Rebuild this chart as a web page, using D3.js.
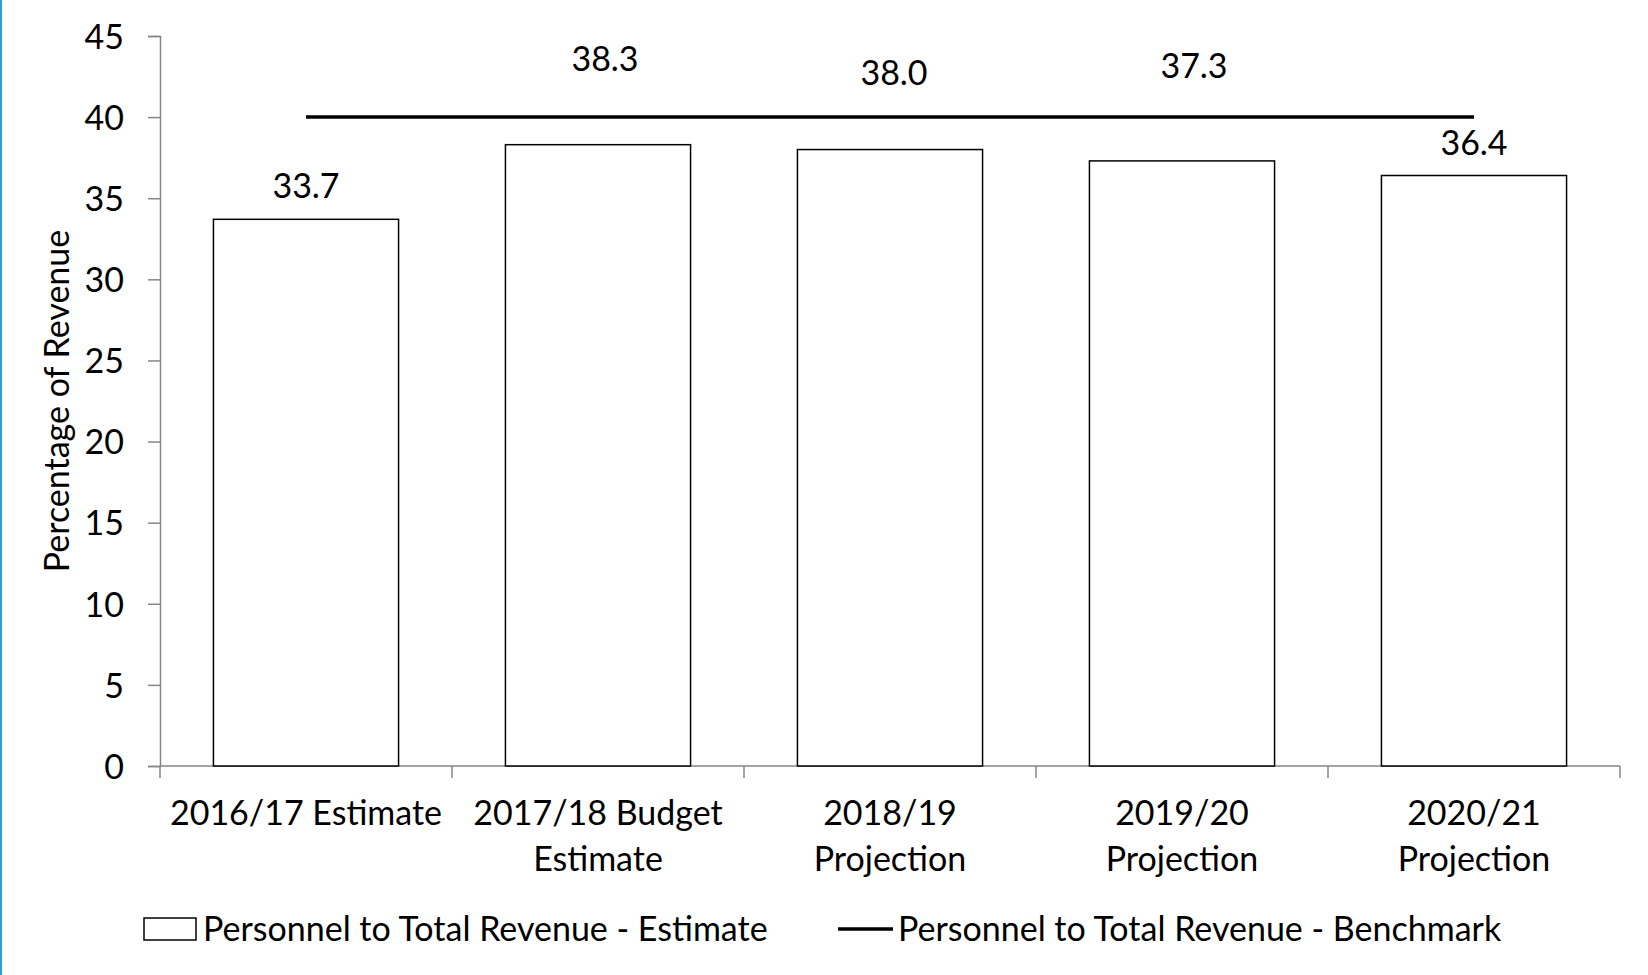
<!DOCTYPE html>
<html>
<head>
<meta charset="utf-8">
<script src="https://cdn.jsdelivr.net/npm/d3@7"></script>
<style>
  html, body { margin: 0; padding: 0; background: #fff; }
  svg text { font-family: "Lato", "Open Sans", sans-serif; fill: #000; }
</style>
</head>
<body>
<div id="chart"></div>
<script>
'use strict';

// Chart data
const categories = [
    ['2016/17 Estimate'],
    ['2017/18 Budget', 'Estimate'],
    ['2018/19', 'Projection'],
    ['2019/20', 'Projection'],
    ['2020/21', 'Projection']
];
const estimateValues = [33.7, 38.3, 38.0, 37.3, 36.4];
const benchmarkValues = [40, 40, 40, 40, 40];
const yTicks = [0, 5, 10, 15, 20, 25, 30, 35, 40, 45];
const seriesNames = ['Personnel to Total Revenue - Estimate', 'Personnel to Total Revenue - Benchmark'];
const yTitle = 'Percentage of Revenue';

const width = 1648, height = 975;
const margin = { top: 36, right: 28, bottom: 209, left: 160 };
const fontSize = 34;

const svg = d3.select('#chart').append('svg')
    .attr('width', width)
    .attr('height', height);

// thin blue frame edge on the left
svg.append('rect')
    .attr('x', 0).attr('y', 0)
    .attr('width', 2).attr('height', height)
    .attr('fill', '#2a9fd6');

const keys = categories.map(c => c.join(' '));

const x = d3.scaleBand()
    .domain(keys)
    .range([margin.left, width - margin.right])
    .paddingInner(0.366)
    .paddingOuter(0.183);

const y = d3.scaleLinear()
    .domain([0, 45])
    .range([height - margin.bottom, margin.top]);

// Y axis
const yAxis = svg.append('g')
    .attr('transform', `translate(${margin.left},0)`)
    .call(d3.axisLeft(y).tickValues(yTicks).tickSize(12).tickPadding(24));
yAxis.selectAll('path, line').attr('stroke', '#868686').attr('stroke-width', 1.5);
yAxis.selectAll('text')
    .style('font-size', fontSize + 'px')
    .attr('dy', '0.36em');

// X axis line + boundary ticks
const x0 = margin.left, y0 = y(0);
const xAxis = svg.append('g');
xAxis.append('line')
    .attr('x1', x0).attr('x2', width - margin.right)
    .attr('y1', y0).attr('y2', y0)
    .attr('stroke', '#868686').attr('stroke-width', 1.5);
xAxis.selectAll('line.tick')
    .data(d3.range(keys.length + 1))
    .join('line')
    .classed('tick', true)
    .attr('x1', i => x0 + i * x.step())
    .attr('x2', i => x0 + i * x.step())
    .attr('y1', y0).attr('y2', y0 + 12)
    .attr('stroke', '#868686').attr('stroke-width', 1.5);

// Category labels
xAxis.selectAll('text.cat')
    .data(categories)
    .join('text')
    .classed('cat', true)
    .attr('text-anchor', 'middle')
    .style('font-size', fontSize + 'px')
    .each(function (lines, i) {
        const t = d3.select(this);
        const cx = x(keys[i]) + x.bandwidth() / 2;
        lines.forEach((ln, j) => {
            t.append('tspan')
                .attr('x', cx)
                .attr('y', y0 + 59 + j * 46)
                .text(ln);
        });
    });

// Bars
svg.append('g').selectAll('rect')
    .data(estimateValues)
    .join('rect')
    .attr('x', (d, i) => x(keys[i]))
    .attr('y', d => y(d))
    .attr('width', x.bandwidth())
    .attr('height', d => y(0) - y(d))
    .attr('fill', '#fff')
    .attr('stroke', '#000')
    .attr('stroke-width', 1.5);

// Benchmark line
const line = d3.line()
    .x((d, i) => x(keys[i]) + x.bandwidth() / 2)
    .y(d => y(d));
svg.append('path')
    .datum(benchmarkValues)
    .attr('d', line)
    .attr('fill', 'none')
    .attr('stroke', '#000')
    .attr('stroke-width', 3.5);

// Data labels (some nudged above the benchmark line)
const labelNudge = [[0, 0], [7, -53], [4, -44], [12, -62], [0, 0]];
svg.append('g').selectAll('text')
    .data(estimateValues)
    .join('text')
    .attr('text-anchor', 'middle')
    .style('font-size', fontSize + 'px')
    .attr('x', (d, i) => x(keys[i]) + x.bandwidth() / 2 + labelNudge[i][0])
    .attr('y', (d, i) => y(d) - 21 + labelNudge[i][1])
    .text(d => d.toFixed(1));

// Y title
svg.append('text')
    .attr('transform', `translate(69,${(y(0) + y(45)) / 2}) rotate(-90)`)
    .attr('text-anchor', 'middle')
    .style('font-size', fontSize + 'px')
    .text(yTitle);

// Legend
const legend = svg.append('g').attr('transform', 'translate(0,929)');
legend.append('rect')
    .attr('x', 144).attr('y', -11)
    .attr('width', 52).attr('height', 22)
    .attr('fill', '#fff').attr('stroke', '#000').attr('stroke-width', 1.5);
legend.append('text')
    .attr('x', 203).attr('dy', '0.36em')
    .style('font-size', fontSize + 'px')
    .text(seriesNames[0]);
legend.append('line')
    .attr('x1', 838).attr('x2', 893)
    .attr('stroke', '#000').attr('stroke-width', 3.5);
legend.append('text')
    .attr('x', 898).attr('dy', '0.36em')
    .style('font-size', fontSize + 'px')
    .text(seriesNames[1]);
</script>
</body>
</html>
